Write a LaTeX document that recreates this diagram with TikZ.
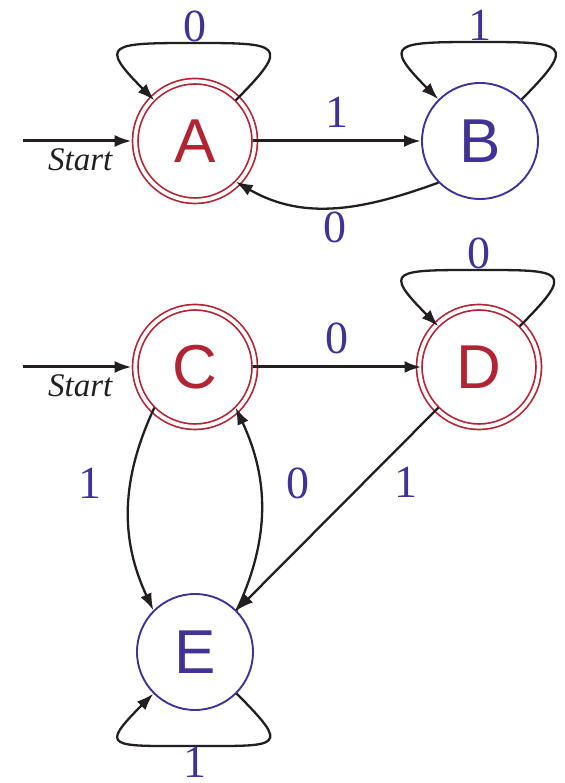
\documentclass[tikz,border=0pt]{standalone}
\usepackage{fontspec}
\setmainfont{Liberation Serif}
\newfontfamily\statefont{Liberation Sans}
\usetikzlibrary{arrows.meta,calc,positioning}
\definecolor{stred}{RGB}{178,36,52}
\definecolor{stblue}{RGB}{66,50,150}
\definecolor{stdark}{RGB}{35,31,32}
\tikzset{
  rejstate/.style={circle,draw=stblue,line width=1.9pt,minimum size=116pt,inner sep=0pt,text=stblue,font=\statefont\fontsize{62}{62}\selectfont},
  accstate/.style={rejstate,draw=stred,text=stred,line width=1.7pt,double=white,double distance=3.8pt,minimum size=119.4pt,outer sep=-2.2pt},
  sym/.style={inner sep=0pt,text=stblue,font=\fontsize{46}{46}\selectfont},
  startlbl/.style={inner sep=0pt,text=stdark,font=\itshape\fontsize{33}{33}\selectfont},
  arr/.style={-{Latex[length=17pt,width=12pt]},line width=2.3pt,draw=stdark},
  thickarr/.style={arr,line width=3pt},
}
\begin{document}
\begin{tikzpicture}[x=1pt,y=1pt]
  \useasboundingbox (0,0) rectangle (564,783);
  \node[accstate] (A) at (195,642) {A};
  \node[rejstate,on grid,right=285pt of A] (B) {B};
  \node[accstate,on grid,below=226pt of A] (C) {C};
  \node[accstate,on grid,right=284pt of C] (D) {D};
  \node[rejstate,on grid,below=285pt of C] (E) {E};
  \coordinate[on grid,left=172pt of A] (startA);
  \coordinate[on grid,left=172pt of C] (startC);
  \coordinate[on grid,above=98pt of A] (loopA);
  \coordinate[on grid,above=99pt of B] (loopB);
  \coordinate[on grid,above=97pt of D] (loopD);
  \coordinate[on grid,below=94pt of E] (loopE);

  \draw[thickarr,shorten >=5.8pt] (startA) -- node[startlbl,below=6pt] {Start} (A);
  \draw[thickarr,shorten >=5.8pt] (startC) -- node[startlbl,below=6pt] {Start} (C);

  \draw[thickarr] (A) -- node[sym,above=12pt] {1} (B);
  \draw[arr] (B.225) to[out=200,in=-30] node[sym,below=4pt] {0} (A.-45);
  \draw[arr] (A.45) .. controls +(45:80pt) and +(85pt,0pt) .. (loopA) node[sym,above] {0}
    .. controls +(-85pt,0pt) and +(135:80pt) .. (A.135);
  \draw[arr] (B.45) .. controls +(45:80pt) and +(85pt,0pt) .. (loopB) node[sym,above] {1}
    .. controls +(-85pt,0pt) and +(135:80pt) .. (B.135);

  \draw[thickarr] (C) -- node[sym,above=12pt] {0} (D);
  \draw[arr] (D.45) .. controls +(45:80pt) and +(85pt,0pt) .. (loopD) node[sym,above] {0}
    .. controls +(-85pt,0pt) and +(135:80pt) .. (D.135);
  \draw[arr] (C.-135) to[out=-115,in=115] node[sym,pos=0.37,left=28pt] {1} (E.135);
  \draw[arr] (E.45) to[out=65,in=-65] node[sym,pos=0.63,right=26pt] {0} (C.-45);
  \draw[arr] (D.-135) -- node[sym,pos=0.37,right=30pt] {1} (E.45);
  \draw[arr] (E.-45) .. controls +(-45:78pt) and +(85pt,0pt) .. (loopE) node[sym,below=0pt] {1}
    .. controls +(-85pt,0pt) and +(-135:78pt) .. (E.-135);
\end{tikzpicture}
\end{document}
